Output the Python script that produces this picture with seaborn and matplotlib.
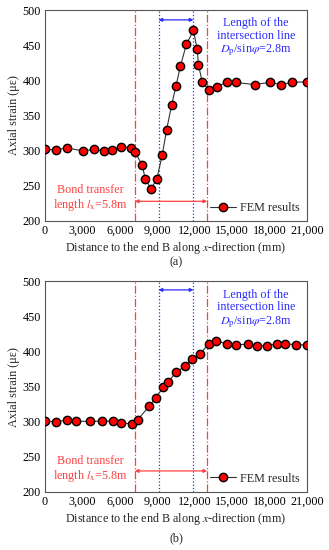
import matplotlib
matplotlib.use('Agg')
import matplotlib.pyplot as plt
import matplotlib.ticker as mticker
import seaborn as sns

# (a) values
xa = [0, 880, 1740, 3050, 3950, 4700, 5370, 6120, 6870, 7220, 7800, 8030, 8500,
      8950, 9400, 9750, 10150, 10500, 10850, 11330, 11900, 12200, 12300, 12600,
      13150, 13750, 14580, 15300, 16800, 18000, 18900, 19800, 21000]
ya = [302, 301, 304, 299.5, 302, 299.5, 301, 305.5, 304, 298, 279, 260, 246,
      259, 294, 330, 365, 392, 420, 451, 471, 444, 422, 398, 386, 390, 398,
      397, 394, 397, 394, 397, 398]

# (b) values
xb = [0, 880, 1740, 2500, 3580, 4540, 5450, 6070, 7000, 7420, 8350, 8880, 9480,
      9880, 10500, 11200, 11750, 12420, 13130, 13700, 14580, 15300, 16300,
      17000, 17800, 18600, 19250, 20150, 21000]
yb = [301, 300, 302.5, 301, 300.5, 301, 301, 298, 297.5, 303, 322, 334.5, 349,
      357, 370.5, 379, 389.5, 396.5, 411.5, 415, 411.5, 410, 410.5, 408.5,
      408.5, 411, 411, 410, 409.5]

bond_lines = [7200, 13000]
cross_lines = [9100, 11900]
xticks = [0, 3000, 6000, 9000, 12000, 15000, 18000, 21000]
yticks = [200, 250, 300, 350, 400, 450, 500]

sns.set_theme(style="white")
plt.rcParams['font.family'] = ['Liberation Serif', 'DejaVu Serif']
plt.rcParams['mathtext.fontset'] = 'stix'

red = '#ff4040'
blue = '#2b2bff'
fs = 8.7

fig = plt.figure(figsize=(3.29, 5.5), dpi=100)
ax1 = fig.add_axes([0.1368, 0.5982, 0.7963, 0.3836])
ax2 = fig.add_axes([0.1368, 0.1055, 0.7963, 0.3827])

panels = [(ax1, xa, ya, 486, 228, '(a)', -0.195), (ax2, xb, yb, 488, 230, '(b)', -0.222)]
for ax, xs, ys, yblue, yred, tag, tag_y in panels:
    for xv in bond_lines:
        ax.axvline(xv, color=red, lw=0.9, ls='-.', zorder=1)
    for xv in cross_lines:
        ax.axvline(xv, color=blue, lw=0.9, ls=':', zorder=1)
    sns.lineplot(ax=ax, x=xs, y=ys, color='#333333', lw=0.8, marker='o',
                 markersize=6, markerfacecolor='red', markeredgecolor='black',
                 markeredgewidth=1.0, label='FEM results', zorder=3)
    ax.annotate('', xy=(cross_lines[0], yblue), xytext=(cross_lines[1], yblue),
                arrowprops=dict(arrowstyle='<|-|>', color=blue, lw=0.9,
                                mutation_scale=5, shrinkA=0, shrinkB=0))
    ax.annotate('', xy=(bond_lines[0], yred), xytext=(bond_lines[1], yred),
                arrowprops=dict(arrowstyle='<|-|>', color=red, lw=0.9,
                                mutation_scale=5, shrinkA=0, shrinkB=0))
    ax.text(16900, 490, 'Length of the\nintersection line\n$D_\\mathrm{p}$/sin$\\varphi$=2.8m',
            color=blue, fontsize=fs, ha='center', va='top', linespacing=1.1)
    ax.text(3600, 211, 'Bond transfer\nlength $l_\\mathrm{x}$=5.8m', color=red,
            fontsize=fs, ha='center', va='bottom', linespacing=1.15)
    ax.set_xlim(0, 21000)
    ax.set_ylim(200, 500)
    ax.set_xticks(xticks)
    ax.set_yticks(yticks)
    ax.xaxis.set_major_formatter(mticker.FuncFormatter(lambda v, p: f'{int(v):,}'))
    ax.tick_params(direction='in', length=3, width=0.7, labelsize=fs, pad=3,
                   color='#444444', labelcolor='black')
    for sp in ax.spines.values():
        sp.set_color('#555555')
        sp.set_linewidth(0.8)
    ax.set_xlabel('Distance to the end B along $x$-direction (mm)', fontsize=fs,
                  labelpad=2)
    ax.set_ylabel('Axial strain (με)', fontsize=fs, labelpad=2)
    ax.legend(loc='lower right', frameon=False, fontsize=fs, handlelength=2.2,
              handletextpad=0.3, borderaxespad=0.2, bbox_to_anchor=(1.0, 0.0))
    ax.text(0.5, tag_y, tag, transform=ax.transAxes, ha='center', va='center',
            fontsize=fs)

fig.savefig('out.png', dpi=100)
